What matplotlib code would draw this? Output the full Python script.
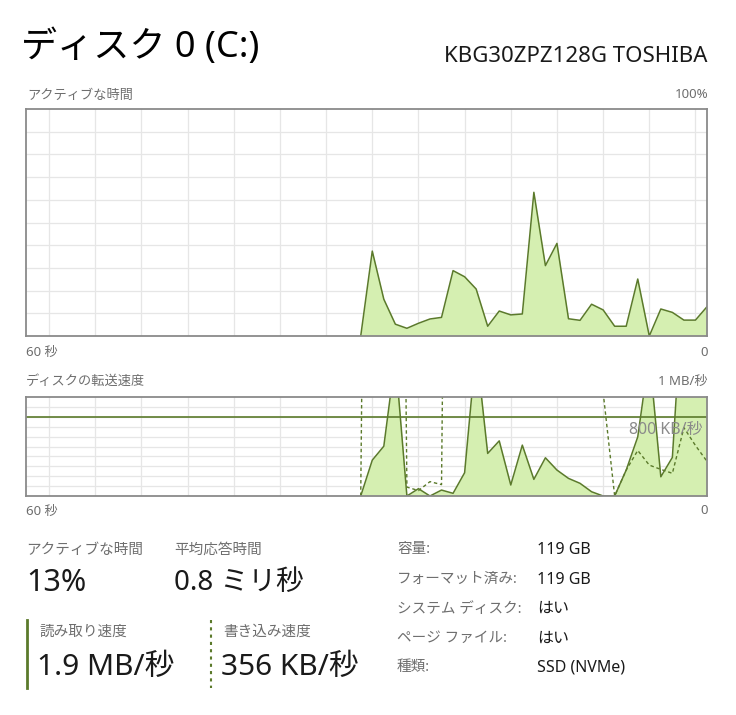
import matplotlib.pyplot as plt
import numpy as np

plt.rcParams['font.family'] = ['Noto Sans', 'Noto Sans CJK JP', 'DejaVu Sans']

W, H = 736, 715

# 60秒のサンプル (index 0..59)。データは index 29 から
start = 29
active_pct = [0, 37.4, 16.2, 5.2, 3.4, 5.6, 7.5, 8.2, 28.8, 26.1, 20.7, 4.3, 11.0, 9.3, 9.7,
              63.3, 31.0, 40.8, 7.6, 6.9, 14.0, 11.5, 4.3, 4.3, 25.1, 0, 11.9, 10.4, 7.0, 7.0, 12.9]
read_kb = [0, 362, 503, 1400, 0, 74, 0, 60, 27, 235, 1500, 430, 557, 111, 514, 168,
           386, 262, 178, 128, 43, 0, 0, 262, 597, 1430, 194, 390, 2240, 2000, 1900]
write_kb = [0, 12000, 12000, 12000, 90, 55, 145, 115, 12000, 12000, 12000, 12000, 12000, 12000,
            12000, 12000, 12000, 12000, 12000, 12000, 12000, 1050, 0, 262, 460, 312, 269, 229,
            690, 510, 350]

stat_labels = ['アクティブな時間', '平均応答時間']
stat_values = ['13%', '0.8 ミリ秒']
rate_labels = ['読み取り速度', '書き込み速度']
rate_values = ['1.9 MB/秒', '356 KB/秒']
info_labels = ['容量:', 'フォーマット済み:', 'システム ディスク:', 'ページ ファイル:', '種類:']
info_values = ['119 GB', '119 GB', 'はい', 'はい', 'SSD (NVMe)']

LINE = '#5b7a2b'
FILL = '#d5efb1'
GRID = '#e6e6e6'
BORDER = '#8a8a8a'
GRAY = '#6e6e6e'
DARK = '#1a1a1a'


def fx(x):
    return x / W


def fy(y):
    return 1 - y / H


def px_axes(fig, left, top, right, bottom):
    return fig.add_axes([fx(left), fy(bottom), (right - left) / W, (bottom - top) / H])


def style_chart(ax, ymax, step):
    ax.set_xlim(0, 59)
    ax.set_ylim(0, ymax)
    ax.set_xticks(np.arange(2, 60, 4))
    ax.set_yticks(np.arange(step, ymax, step))
    ax.grid(True, color=GRID, lw=0.9)
    ax.tick_params(length=0, labelbottom=False, labelleft=False)
    for s in ax.spines.values():
        s.set_color(BORDER)
        s.set_linewidth(1.3)
    ax.set_axisbelow(True)


fig = plt.figure(figsize=(W / 100, H / 100), dpi=100)
fig.patch.set_facecolor('white')

x = np.arange(start, 60)

# アクティブな時間
ax1 = px_axes(fig, 26, 109, 707, 336)
style_chart(ax1, 100, 10)
ax1.fill_between(x, active_pct, 0, color=FILL, lw=0)
ax1.plot(x, active_pct, color=LINE, lw=1.1)

# ディスクの転送速度
ax2 = px_axes(fig, 26, 397, 707, 496)
style_chart(ax2, 1000, 100)
ax2.fill_between(x, read_kb, 0, color=FILL, lw=0)
ax2.plot(x, read_kb, color=LINE, lw=1.1)
ax2.plot(x, write_kb, color=LINE, lw=1.0, ls=(0, (2.5, 2)))
ax2.axhline(800, color=LINE, lw=1.2)
ax2.text(0.993, 0.665, '800 KB/秒', transform=ax2.transAxes, ha='right', va='center',
         fontsize=11.5, color='#8a8a8a')

# タイトル
fig.text(fx(21), fy(48), 'ディスク 0 (C:)', fontsize=26, color='black', va='center', ha='left')
fig.text(fx(708), fy(56), 'KBG30ZPZ128G TOSHIBA', fontsize=16, color=DARK, va='center', ha='right')

small = dict(fontsize=9.5, color=GRAY, va='center')
fig.text(fx(27), fy(95), 'アクティブな時間', ha='left', **small)
fig.text(fx(708), fy(95), '100%', ha='right', **small)
fig.text(fx(26), fy(352), '60 秒', ha='left', **small)
fig.text(fx(708), fy(352), '0', ha='right', **small)
fig.text(fx(26), fy(381), 'ディスクの転送速度', ha='left', **small)
fig.text(fx(708), fy(381), '1 MB/秒', ha='right', **small)
fig.text(fx(26), fy(511), '60 秒', ha='left', **small)
fig.text(fx(708), fy(511), '0', ha='right', **small)

# 統計
for lbl, val, x0, fs in zip(stat_labels, stat_values, [26, 174], [22, 20]):
    fig.text(fx(x0), fy(550), lbl, fontsize=10.5, color=GRAY, va='center', ha='left')
    fig.text(fx(x0), fy(583), val, fontsize=fs, color=DARK, va='center', ha='left')

for lbl, val, x0, ls in zip(rate_labels, rate_values, [26, 210], ['-', (0, (1.5, 2))]):
    fig.add_artist(plt.Line2D([fx(x0 + 1), fx(x0 + 1)], [fy(620), fy(688)], color=LINE,
                              lw=2 if ls == '-' else 1.5, ls=ls))
    fig.text(fx(x0 + 13), fy(632), lbl, fontsize=10.5, color=GRAY, va='center', ha='left')
    fig.text(fx(x0 + 11), fy(667), val, fontsize=21.5, color=DARK, va='center', ha='left')

for i, (lbl, val) in enumerate(zip(info_labels, info_values)):
    yy = 550 + i * 29.5
    fig.text(fx(397), fy(yy), lbl, fontsize=10.5, color=GRAY, va='center', ha='left')
    fig.text(fx(537), fy(yy), val, fontsize=11.5, color=DARK, va='center', ha='left')

fig.savefig('out.png', dpi=100, facecolor='white')
